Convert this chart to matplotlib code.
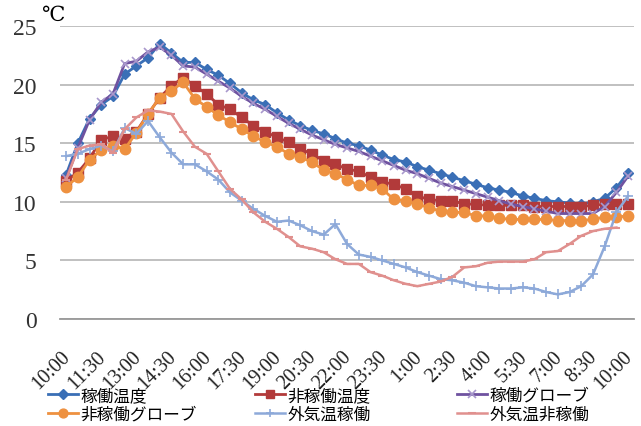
import numpy as np
import matplotlib.pyplot as plt
from matplotlib.transforms import ScaledTranslation

plt.rcParams['font.family'] = ['Noto Sans CJK JP', 'DejaVu Sans']

# 30-minute readings from 10:00 to 10:00 the next day (49 points)
kado_temp = [12.3, 15.0, 17.1, 18.3, 19.0, 20.9, 21.6, 22.3, 23.5, 22.7,
             21.9, 21.9, 21.3, 20.8, 20.1, 19.3, 18.7, 18.3, 17.6, 17.0,
             16.5, 16.1, 15.8, 15.4, 15.0, 14.8, 14.4, 14.0, 13.6, 13.4,
             13.0, 12.7, 12.4, 12.1, 11.8, 11.5, 11.2, 11.0, 10.8, 10.5,
             10.3, 10.1, 10.0, 9.9, 9.8, 10.0, 10.3, 11.2, 12.5]
hikado_temp = [11.8, 12.5, 13.7, 15.3, 15.6, 15.4, 16.0, 17.5, 18.9, 19.9,
               20.6, 19.9, 19.2, 18.3, 17.9, 17.2, 16.5, 16.0, 15.5, 15.1,
               14.5, 14.1, 13.5, 13.2, 12.8, 12.6, 12.1, 11.7, 11.5, 11.1,
               10.5, 10.2, 10.1, 10.1, 9.8, 9.8, 9.7, 9.7, 9.7, 9.7,
               9.6, 9.6, 9.6, 9.6, 9.6, 9.7, 9.8, 9.8, 9.8]
kado_globe = [12.0, 14.6, 17.0, 18.5, 19.2, 21.8, 22.0, 22.8, 23.2, 22.5,
              21.6, 21.5, 20.9, 20.3, 19.7, 19.0, 18.4, 17.9, 17.3, 16.7,
              16.2, 15.7, 15.3, 14.9, 14.6, 14.3, 13.9, 13.5, 13.1, 12.7,
              12.4, 12.0, 11.6, 11.3, 11.0, 10.7, 10.4, 10.1, 9.8, 9.6,
              9.4, 9.2, 9.0, 9.0, 9.0, 9.0, 9.6, 10.8, 12.2]
hikado_globe = [11.3, 12.1, 13.6, 14.4, 14.8, 14.5, 15.9, 17.5, 18.9, 19.5,
                20.2, 18.8, 18.1, 17.4, 16.8, 16.2, 15.6, 15.1, 14.7, 14.1,
                13.8, 13.4, 12.7, 12.4, 11.9, 11.4, 11.4, 11.1, 10.2, 10.1,
                9.8, 9.5, 9.2, 9.1, 9.1, 8.8, 8.8, 8.6, 8.5, 8.5,
                8.5, 8.5, 8.4, 8.4, 8.4, 8.5, 8.7, 8.7, 8.8]
gaiki_kado = [13.9, 14.1, 14.5, 14.8, 14.3, 16.3, 15.8, 16.9, 15.5, 14.2,
              13.2, 13.2, 12.6, 11.9, 10.8, 10.1, 9.4, 8.8, 8.3, 8.4,
              8.0, 7.5, 7.2, 8.1, 6.4, 5.5, 5.3, 5.0, 4.7, 4.4,
              4.0, 3.7, 3.4, 3.3, 3.1, 2.8, 2.7, 2.6, 2.6, 2.7,
              2.6, 2.3, 2.1, 2.3, 2.8, 3.8, 6.2, 9.1, 10.5]
gaiki_hikado = [11.9, 14.5, 14.8, 14.9, 14.2, 16.2, 17.2, 17.8, 17.7, 17.5,
                16.0, 14.7, 14.1, 12.6, 11.1, 10.2, 9.1, 8.3, 7.7, 7.0,
                6.2, 6.0, 5.7, 5.1, 4.7, 4.7, 4.0, 3.7, 3.3, 3.0,
                2.8, 3.0, 3.2, 3.6, 4.4, 4.5, 4.8, 4.9, 4.9, 4.9,
                5.1, 5.7, 5.8, 6.4, 7.1, 7.5, 7.7, 7.8, np.nan]

tick_labels = ["10:00", "11:30", "13:00", "14:30", "16:00", "17:30",
               "19:00", "20:30", "22:00", "23:30", "1:00", "2:30",
               "4:00", "5:30", "7:00", "8:30", "10:00"]

x = np.arange(len(kado_temp))

fig = plt.figure(figsize=(6.41, 4.27), dpi=100)
ax = fig.add_axes([0.094, 0.2506, 0.895, 0.686])

l1, = ax.plot(x, kado_temp, color='#3A6FB6', lw=2, marker='D', ms=5.5,
              label='稼働温度')
l2, = ax.plot(x, hikado_temp, color='#B23A3A', lw=2, marker='s', ms=7.5,
              label='非稼働温度')
l3, = ax.plot(x, kado_globe, color='#6F52A0', lw=2, marker='x', ms=6,
              mec='#A898CC', mew=1.2, label='稼働グローブ')
l4, = ax.plot(x, hikado_globe, color='#EE9140', lw=2, marker='o', ms=7.5,
              label='非稼働グローブ')
l5, = ax.plot(x, gaiki_kado, color='#8DA9D9', lw=1.8, marker='+', ms=7,
              mew=1.2, label='外気温稼働')
l6, = ax.plot(x, gaiki_hikado, color='#E0908E', lw=1.8, marker='_', ms=6,
              mew=1.5, label='外気温非稼働')

ax.set_xlim(-0.5, len(x) - 0.5)
ax.set_ylim(0, 25)
ax.set_yticks([0, 5, 10, 15, 20, 25])
ax.set_yticklabels(['0', '5', '10', '15', '20', '25'],
                   family='Liberation Serif', fontsize=17, color='#333333')
ax.tick_params(axis='y', length=0, pad=17)
ax.set_xticks(x[::3])
ax.set_xticklabels(tick_labels, rotation=45, ha='right', va='top',
                   rotation_mode='anchor', family='Liberation Serif',
                   fontsize=14.5, color='#222222')
ax.tick_params(axis='x', length=0, pad=20)
shift = ScaledTranslation(-5 / 100, 0, fig.dpi_scale_trans)
for lab in ax.get_xticklabels():
    lab.set_transform(lab.get_transform() + shift)
ax.grid(axis='y', color='#BBBBBB', lw=1.3)
ax.set_axisbelow(True)
for s in ['top', 'right', 'left']:
    ax.spines[s].set_visible(False)
ax.spines['bottom'].set_color('#999999')
ax.spines['bottom'].set_linewidth(1.3)

fig.text(53 / 641, 1 - 15 / 427, '℃', fontsize=15, family='DejaVu Serif',
         ha='center', va='center')

# one legend per column, two rows each
columns = [(l1, l4), (l2, l5), (l3, l6)]
col_x = [48 / 641, 255 / 641, 457 / 641]
for handles, cx in zip(columns, col_x):
    fig.legend(handles=list(handles), loc='center left',
               bbox_to_anchor=(cx, 21 / 427), frameon=False, fontsize=12,
               handlelength=1.8, handletextpad=0.15, labelspacing=0.12,
               borderpad=0, borderaxespad=0, markerscale=0.85)

fig.savefig('out.png', dpi=100)
